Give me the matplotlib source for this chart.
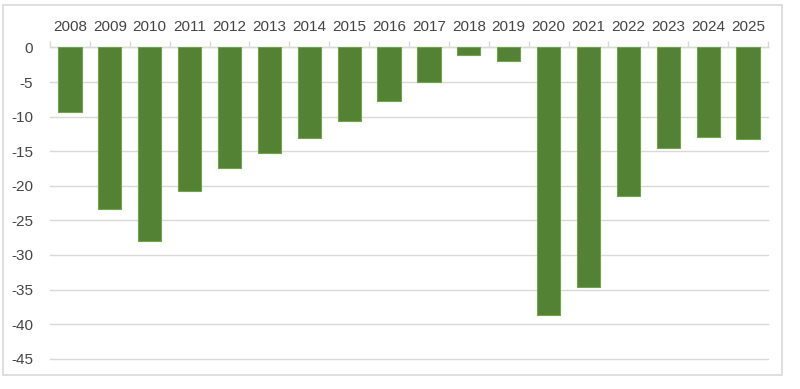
import matplotlib
matplotlib.use("Agg")
import matplotlib.pyplot as plt
from matplotlib.patches import Rectangle
import numpy as np

# ---------------------------------------------------------------------------
# Dati
# ---------------------------------------------------------------------------
years = ["2008", "2009", "2010", "2011", "2012", "2013", "2014", "2015", "2016",
         "2017", "2018", "2019", "2020", "2021", "2022", "2023", "2024", "2025"]
values = [-9.3, -23.4, -28.0, -20.8, -17.4, -15.3, -13.1, -10.6, -7.7,
          -5.0, -1.1, -1.9, -38.7, -34.7, -21.5, -14.5, -12.9, -13.2]
y_ticks = [0, -5, -10, -15, -20, -25, -30, -35, -40, -45]

BAR_COLOR  = "#548235"
EDGE_COLOR = "#6fa548"
GRID_COLOR = "#d9d9d9"
TEXT_COLOR = "#454545"

plt.rcParams.update({
    "font.family": ["Liberation Sans", "DejaVu Sans"],
    "font.size": 11,
    "axes.unicode_minus": False,
})

fig = plt.figure(figsize=(8.0, 3.89), dpi=100)
ax = fig.add_axes([0.0625, 0.078, 0.8975, 0.800])

# cornice esterna del grafico
fig.patches.append(Rectangle((0.004, 0.036), 0.974, 0.950, transform=fig.transFigure,
                             fill=False, edgecolor=GRID_COLOR, linewidth=1.2))

x = np.arange(len(years))
ax.bar(x, values, width=0.58, color=BAR_COLOR, edgecolor=EDGE_COLOR,
       linewidth=0.8, zorder=3)

ax.set_xlim(-0.5, len(years) - 0.5)
ax.set_ylim(-45, 0)
ax.set_yticks(y_ticks)
ax.set_yticklabels([str(v) for v in y_ticks])
ax.grid(axis="y", color=GRID_COLOR, linewidth=1.0, zorder=0)
for gl in ax.get_ygridlines():
    gl.set_clip_on(False)

# etichette anni in alto
ax.xaxis.tick_top()
ax.set_xticks(x)
ax.set_xticklabels(years)
ax.set_xticks(np.arange(-0.5, len(years), 1.0), minor=True)
ax.tick_params(axis="x", which="major", length=0, pad=10, colors=TEXT_COLOR)
ax.tick_params(axis="x", which="minor", length=4, color=GRID_COLOR, width=1.0)
ax.tick_params(axis="y", length=0, pad=12, colors=TEXT_COLOR)

for side in ["left", "right", "bottom"]:
    ax.spines[side].set_visible(False)
ax.spines["top"].set_color(GRID_COLOR)
ax.spines["top"].set_linewidth(1.0)

fig.savefig("out.png", dpi=100)
